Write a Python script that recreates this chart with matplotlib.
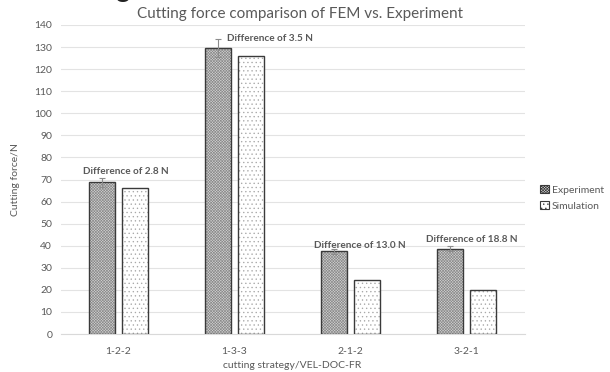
import matplotlib
matplotlib.use("Agg")
import matplotlib.pyplot as plt
import numpy as np

categories = ["1-2-2", "1-3-3", "2-1-2", "3-2-1"]
experiment = [68.8, 129.6, 37.4, 38.7]
simulation = [66.0, 126.1, 24.4, 19.9]
exp_err = [2.0, 4.0, 1.0, 1.0]
diff_labels = ["Difference of 2.8 N", "Difference of 3.5 N",
               "Difference of 13.0 N", "Difference of 18.8 N"]
yticks = list(range(0, 141, 10))

FONT = ["Lato", "DejaVu Sans"]
TXT = "#595959"
plt.rcParams["font.family"] = FONT
plt.rcParams["hatch.linewidth"] = 0.45

fig = plt.figure(figsize=(6.10, 3.72), dpi=100)
ax = fig.add_axes([60.5 / 610, 1 - 334 / 372, 464 / 610, 309 / 372])

x = np.arange(len(categories))
w = 0.224
off = 0.142

# Experiment bars: dense crosshatch
b1 = ax.bar(x - off, experiment, w, facecolor="#d2d2d2", edgecolor="#8a8a8a",
            hatch="xxxxxxxxxxxx", linewidth=0, zorder=2, label="Experiment")
ax.bar(x - off, experiment, w, fill=False, edgecolor="#3a3a3a", linewidth=1.0, zorder=3)
# Simulation bars: dots
b2 = ax.bar(x + off, simulation, w, facecolor="white", edgecolor="#a8a8a8",
            hatch="....", linewidth=0, zorder=2, label="Simulation")
ax.bar(x + off, simulation, w, fill=False, edgecolor="#3a3a3a", linewidth=1.0, zorder=3)

ax.errorbar(x - off, experiment, yerr=exp_err, fmt="none", ecolor="#8c8c8c",
            elinewidth=0.8, capsize=2, capthick=0.8, zorder=4)

# Annotation positions (offset relative to category)
label_dx = [0.06, 0.306, 0.08, 0.047]
label_y = [73.4, 133.7, 39.9, 43.0]
for i, t in enumerate(diff_labels):
    ax.text(x[i] + label_dx[i], label_y[i], t, ha="center", va="center",
            fontsize=7.2, fontweight="bold", color=TXT, zorder=5)

ax.set_xlim(-0.5, len(categories) - 0.5)
ax.set_ylim(0, 140)
ax.set_yticks(yticks)
ax.set_xticks(x)
ax.set_xticklabels(categories)
ax.tick_params(axis="both", length=0, labelsize=7.5, colors=TXT, pad=6)
ax.tick_params(axis="x", pad=9)
ax.grid(axis="y", color="#e3e3e3", linewidth=0.8, zorder=0)
ax.set_axisbelow(True)
for s in ["top", "right", "left"]:
    ax.spines[s].set_visible(False)
ax.spines["bottom"].set_color("#d9d9d9")

ax.set_ylabel("Cutting force/N", fontsize=7.5, color=TXT, labelpad=10)
ax.set_xlabel("cutting strategy/VEL-DOC-FR", fontsize=7.5, color=TXT, labelpad=4)

fig.text(300 / 610, 1 - 14 / 372, "Cutting force comparison of FEM vs. Experiment",
         ha="center", va="center", fontsize=11, color=TXT)
# partially cut-off text at the very top (as in the reference)
fig.text(115 / 610, 1 + 11 / 372, "g", ha="left", va="center", fontsize=20, color="#222222")

leg = fig.legend(handles=[b1, b2], loc="center left",
                 bbox_to_anchor=(535 / 610, 1 - 198 / 372), frameon=False,
                 fontsize=7.5, handlelength=0.8, handleheight=0.8,
                 handletextpad=0.3, labelspacing=0.6, borderpad=0)
for t in leg.get_texts():
    t.set_color(TXT)
for h in leg.legend_handles:
    h.set_linewidth(0.8)
    h.set_edgecolor("#3a3a3a")

fig.savefig("out.png", dpi=100)
